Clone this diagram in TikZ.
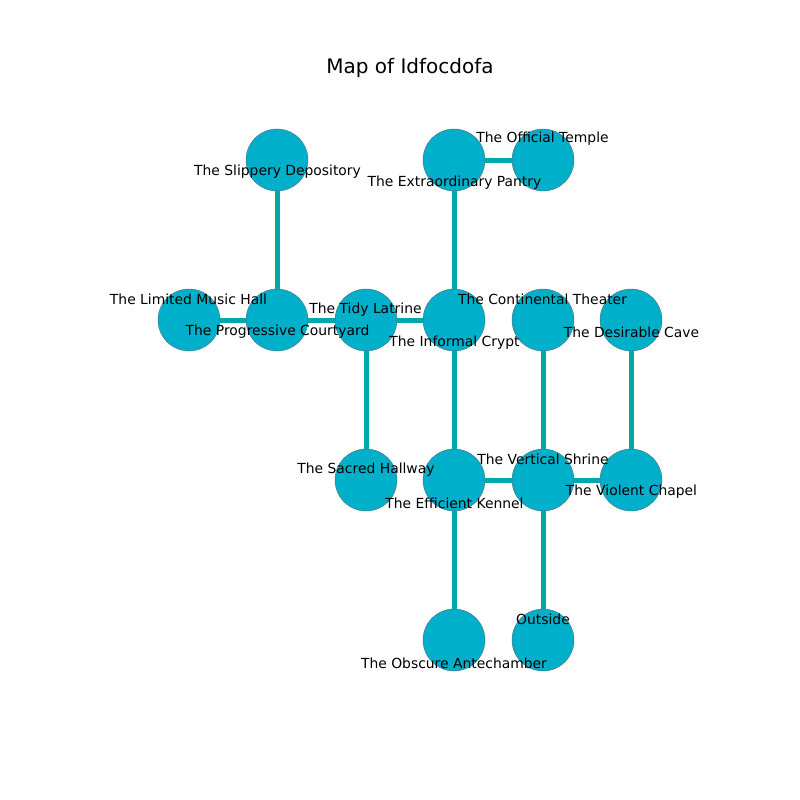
\documentclass[tikz,border=0pt]{standalone}
\usepackage{fontspec}
\setmainfont{DejaVu Sans}
\definecolor{nodefill}{RGB}{0,176,202}
\definecolor{edgecol}{RGB}{0,168,168}
\definecolor{rimcol}{RGB}{70,110,120}
\begin{document}
\begin{tikzpicture}[x=0.72pt,y=-0.72pt,
  room/.style={circle,fill=nodefill,draw=rimcol,line width=0.3pt,minimum size=44.6pt,inner sep=0pt},
  lbl/.style={inner sep=0pt,anchor=center,font=\fontsize{10}{12}\selectfont},
  link/.style={edgecol,line width=3.6pt}]
\useasboundingbox (0,0) rectangle (800,800);
\node[font=\fontsize{14.4}{17}\selectfont] (title) at (410,68) {Map of Idfocdofa};
% rooms
\node[room] (slip) at (277,160) {};
\node[room] (extra) at (454,160) {};
\node[room] (offic) at (543,160) {};
\node[room] (limit) at (189,320) {};
\node[room] (prog) at (277,320) {};
\node[room] (tidy) at (366,320) {};
\node[room] (infor) at (454,320) {};
\node[room] (conti) at (543,320) {};
\node[room] (desir) at (631,320) {};
\node[room] (sacr) at (366,480) {};
\node[room] (effic) at (454,480) {};
\node[room] (vert) at (543,480) {};
\node[room] (viol) at (631,480) {};
\node[room] (obsc) at (454,640) {};
\node[room] (outs) at (543,640) {};
% links
\draw[link] (slip) -- (prog);
\draw[link] (extra) -- (offic);
\draw[link] (extra) -- (infor);
\draw[link] (limit) -- (prog);
\draw[link] (prog) -- (tidy);
\draw[link] (tidy) -- (infor);
\draw[link] (tidy) -- (sacr);
\draw[link] (infor) -- (effic);
\draw[link] (conti) -- (vert);
\draw[link] (desir) -- (viol);
\draw[link] (effic) -- (vert);
\draw[link] (vert) -- (viol);
\draw[link] (effic) -- (obsc);
\draw[link] (vert) -- (outs);
% labels
\node[lbl] (lslip) at (277.5,172) {The Slippery Depository};
\node[lbl] (lextra) at (454.5,183) {The Extraordinary Pantry};
\node[lbl] (loffic) at (542.5,139) {The Official Temple};
\node[lbl] (llimit) at (188.5,299) {The Limited Music Hall};
\node[lbl] (lprog) at (277.5,332) {The Progressive Courtyard};
\node[lbl] (ltidy) at (365.5,310) {The Tidy Latrine};
\node[lbl] (linfor) at (454.5,343) {The Informal Crypt};
\node[lbl] (lconti) at (542.5,299) {The Continental Theater};
\node[lbl] (ldesir) at (631.5,332) {The Desirable Cave};
\node[lbl] (lsacr) at (366,470) {The Sacred Hallway};
\node[lbl] (leffic) at (454.5,503) {The Efficient Kennel};
\node[lbl] (lvert) at (543,459) {The Vertical Shrine};
\node[lbl] (lviol) at (631.5,492) {The Violent Chapel};
\node[lbl] (lobsc) at (454,663) {The Obscure Antechamber};
\node[lbl] (louts) at (543,619) {Outside};
\end{tikzpicture}
\end{document}
